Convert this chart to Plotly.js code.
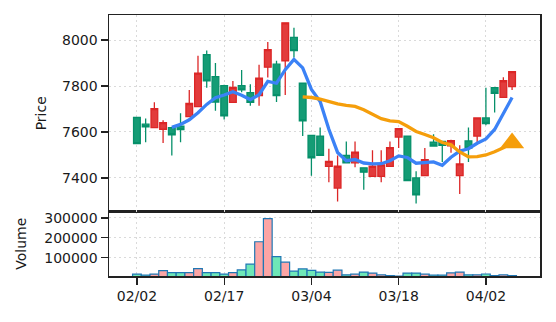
<!DOCTYPE html>
<html><head><meta charset="utf-8">
<script src="https://cdn.plot.ly/plotly-3.0.1.min.js"></script>
<style>html,body{margin:0;padding:0;background:#fff;} #chart{width:556px;height:322px;}</style>
</head><body><div id="chart"></div>
<script>
const dates = ['02/02','02/03','02/04','02/05','02/06','02/09','02/10','02/11','02/12','02/13',
  '02/17','02/18','02/19','02/20','02/23','02/24','02/25','02/26','02/27','03/03',
  '03/04','03/05','03/06','03/09','03/10','03/11','03/12','03/13','03/16','03/17',
  '03/18','03/19','03/20','03/23','03/24','03/25','03/26','03/27','03/30','04/01',
  '04/02','04/06','04/07','04/08'];
const opens  = [7663,7634,7619,7612,7619,7625,7667,7710,7936,7841,7802,7729,7802,7771,7758,7882,7895,7910,8012,7812,7585,7582,7450,7356,7498,7466,7444,7407,7407,7450,7578,7582,7400,7410,7556,7559,7540,7410,7561,7582,7661,7793,7751,7797];
const highs  = [7665,7659,7729,7651,7622,7682,7783,7932,7954,7900,7805,7822,7870,7808,7892,7992,7910,8077,8053,7815,7588,7619,7527,7498,7559,7559,7447,7520,7520,7559,7617,7585,7429,7530,7590,7562,7566,7542,7619,7663,7793,7795,7838,7865];
const lows   = [7547,7555,7617,7552,7498,7555,7665,7708,7793,7692,7654,7727,7773,7714,7714,7837,7731,7761,7924,7582,7410,7496,7381,7298,7464,7447,7349,7405,7381,7448,7530,7386,7289,7408,7537,7469,7510,7330,7469,7556,7629,7685,7749,7783];
const closes = [7549,7622,7702,7641,7588,7610,7724,7856,7822,7730,7670,7794,7783,7729,7834,7958,7758,8075,7954,7648,7488,7498,7472,7451,7466,7512,7425,7451,7457,7532,7615,7388,7326,7480,7539,7542,7562,7461,7530,7661,7637,7768,7823,7863];
const volumes = [17000,12000,17000,35000,25000,25000,25000,45000,25000,25000,17000,25000,38000,67000,180000,297000,105000,77000,32000,43000,36000,27000,26000,37000,13500,16500,27500,22500,13500,9000,7500,22500,22500,16500,12000,12000,23000,27500,13000,13000,17500,9000,13000,9000];
const ma5 = [null,null,null,null,7620,7633,7653,7684,7720,7749,7761,7775,7760,7741,7762,7820,7812,7871,7916,7879,7785,7733,7612,7511,7475,7480,7465,7461,7462,7475,7496,7489,7464,7468,7470,7455,7490,7517,7527,7551,7570,7611,7684,7750];
const ma20 = [null,null,null,null,null,null,null,null,null,null,null,null,null,null,null,null,null,null,null,
  7753,7750,7743,7732,7722,7716,7711,7697,7676,7658,7648,7645,7625,7602,7589,7575,7554,7544,7513,7492,7493,7500,7514,7531,7552];
const tickIdx = [0,10,20,30,40];
const tickLabels = ['02/02','02/17','03/04','03/18','04/02'];
const priceTicks = [7400,7600,7800,8000];
const volTicks = [100000,200000,300000];

const idx = dates.map((d,i)=>i);
const upRed = '#dc2626', downGreen = '#06906a';
const volColors = closes.map((c,i)=> c >= opens[i] ? '#fca5a5' : '#6ee7b7');
const lastI = ma20.length - 1;

const gridCol = '#dadada', axCol = '#222';
const traces = [
  {type:'candlestick', x:idx, open:opens, high:highs, low:lows, close:closes, xaxis:'x2', yaxis:'y',
   increasing:{line:{color:upRed,width:1.3}, fillcolor:'#e23c3c'},
   decreasing:{line:{color:downGreen,width:1.3}, fillcolor:'#149c75'},
   whiskerwidth:0, hoverinfo:'skip'},
  {type:'scatter', mode:'lines', x:idx, y:ma5, xaxis:'x2', yaxis:'y', line:{color:'#3b82f6', width:3.3}, hoverinfo:'skip'},
  {type:'scatter', mode:'lines', x:idx, y:ma20, xaxis:'x2', yaxis:'y', line:{color:'#f59e0b', width:3.3}, hoverinfo:'skip'},
  {type:'scatter', mode:'markers', x:[idx[lastI]], y:[ma20[lastI]], xaxis:'x2', yaxis:'y',
   marker:{symbol:'triangle-up', size:21, color:'#f59e0b'}, hoverinfo:'skip'},
  {type:'bar', x:idx, y:volumes, width:1, xaxis:'x', yaxis:'y2',
   marker:{color:volColors, line:{color:'#1f77b4', width:1.2}}, hoverinfo:'skip'}
];
const xcommon = {range:[-3.2,46.2], showline:true, mirror:true, linecolor:axCol, linewidth:1.5,
  showgrid:true, gridcolor:gridCol, griddash:'2px,3px', gridwidth:1, zeroline:false,
  tickmode:'array', tickvals:tickIdx, rangeslider:{visible:false}, fixedrange:true};
const titleFont = {family:'DejaVu Sans', size:14, color:'#1a1a1a'};
const layout = {
  width:556, height:322, margin:{l:109, r:16, t:15, b:46, pad:0},
  paper_bgcolor:'#fff', plot_bgcolor:'#fff', showlegend:false,
  font:{family:'DejaVu Sans', size:14, color:'#1a1a1a'},
  boxgap:0.23, boxgroupgap:0, bargap:0,
  xaxis: Object.assign({}, xcommon, {domain:[0,1], anchor:'y2', ticktext:tickLabels, ticks:'outside', ticklen:7, tickwidth:1.3, tickcolor:axCol}),
  xaxis2: Object.assign({}, xcommon, {domain:[0,1], anchor:'y', matches:'x', showticklabels:false, ticks:''}),
  yaxis: {domain:[0.2471,1], anchor:'x2', range:[7254,8109], tickmode:'array', tickvals:priceTicks,
    ticks:'outside', ticklen:7, tickwidth:1.3, tickcolor:axCol, showline:true, mirror:true, linecolor:axCol, linewidth:1.5,
    showgrid:true, gridcolor:gridCol, griddash:'2px,3px', zeroline:false, title:{text:'Price', standoff:12, font:titleFont}, fixedrange:true},
  yaxis2: {domain:[0,0.2471], anchor:'x', range:[7500,332500], tickmode:'array', tickvals:volTicks, tickformat:'d',
    ticks:'outside', ticklen:7, tickwidth:1.3, tickcolor:axCol, showline:true, mirror:true, linecolor:axCol, linewidth:1.5,
    showgrid:true, gridcolor:gridCol, griddash:'2px,3px', zeroline:false, title:{text:'Volume', standoff:14, font:titleFont}, fixedrange:true}
};
Plotly.newPlot('chart', traces, layout, {staticPlot:true, displayModeBar:false});
</script></body></html>
